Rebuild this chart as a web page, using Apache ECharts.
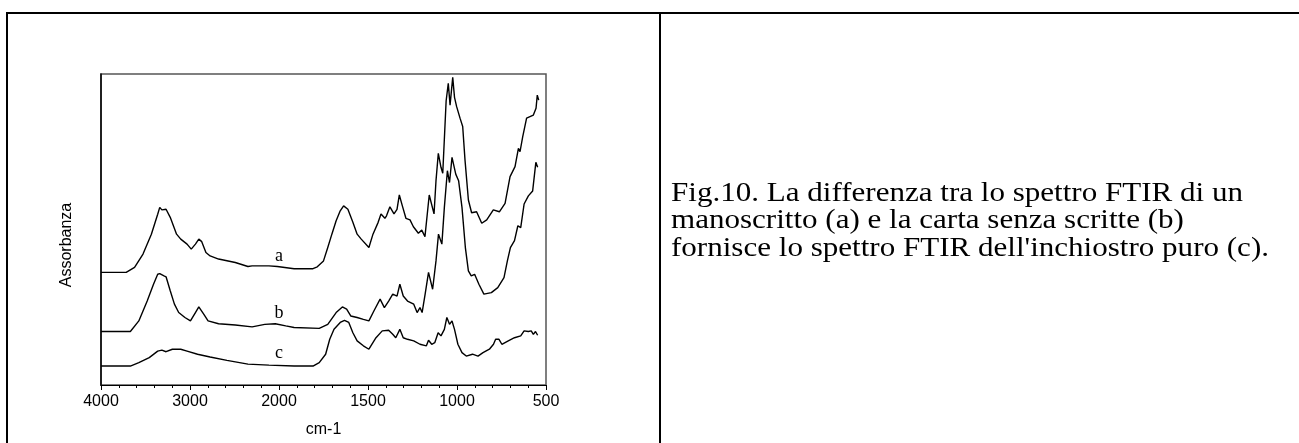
<!DOCTYPE html>
<html>
<head>
<meta charset="utf-8">
<script src="https://cdn.jsdelivr.net/npm/echarts@6/dist/echarts.min.js"></script>
<style>
html,body{margin:0;padding:0;background:#fff;}
#chart{width:1299px;height:443px;}
</style>
</head>
<body>
<div id="chart"></div>
<script>
// Tick labels of the wavenumber axis (scale changes at 2000 cm-1)
var xTickLabels = ['4000', '3000', '2000', '1500', '1000', '500'];

// Spectrum a (manoscritto): wavenumbers and absorbance (arbitrary units)
var waveA = [4000,3717,3623,3528,3434,3363,3340,3316,3269,3222,3151,3104,3033,2986,2939,2901,2868,2821,2774,2679,2491,2349,2302,2113,2019,1915,1809,1785,1750,1726,1703,1679,1656,1637,1613,1585,1561,1538,1495,1472,1443,1427,1405,1396,1377,1354,1337,1324,1307,1287,1264,1245,1217,1198,1180,1156,1129,1118,1105,1090,1080,1061,1049,1039,1024,1014,1002,983,968,955,936,918,890,861,833,796,762,730,702,674,655,646,631,609,571,556,549,541];
var absA  = [36.2,36.2,37.8,42.1,48.5,54.9,57.1,56.3,56.5,53.9,48.5,46.9,45.3,43.7,45.3,46.9,46.1,42.6,41.5,40.5,39.4,38.1,38.3,38.3,38.1,37.4,37.4,38.0,39.9,44.2,48.5,52.8,56.0,57.6,56.5,52.3,48.5,46.9,44.2,48.5,52.3,55.0,53.6,54.4,57.3,55.0,56.5,61.1,57.6,53.6,53.1,50.9,48.8,49.8,47.7,61.1,55.0,65.7,74.5,70.0,68.1,91.4,97.0,90.0,98.9,92.5,89.5,85.8,83.1,72.3,59.5,55.4,55.7,52.0,53.1,56.3,55.7,58.4,67.0,70.2,76.1,75.0,79.8,85.8,86.8,89.0,93.2,91.6];

// Spectrum b (carta senza scritte)
var waveB = [4000,3670,3575,3481,3410,3363,3340,3292,3269,3222,3175,3127,3057,2995,2939,2901,2844,2797,2679,2491,2302,2160,2042,1962,1915,1774,1726,1679,1644,1620,1597,1561,1526,1495,1467,1432,1408,1384,1361,1337,1321,1302,1278,1243,1224,1208,1196,1179,1160,1137,1118,1104,1085,1071,1054,1042,1028,1007,991,972,953,936,920,901,877,849,807,771,736,717,700,677,658,642,623,599,575,557,547];
var absB  = [17.2,17.2,20.6,27.0,32.4,35.6,35.8,35.1,34.8,30.3,26.0,23.3,21.7,20.6,23.3,25.1,22.7,20.6,19.7,19.3,18.7,19.5,19.7,19.0,18.5,18.2,19.5,23.3,25.1,24.4,22.2,21.7,21.1,20.6,23.8,27.6,24.9,27.0,29.2,28.6,32.4,28.6,27.0,26.0,23.3,24.9,23.3,29.2,36.2,30.8,39.9,48.5,45.3,57.1,68.9,65.1,73.2,67.8,65.7,57.1,44.2,36.7,35.1,35.6,32.4,29.2,29.7,31.3,34.5,39.9,44.2,46.4,51.2,50.6,58.2,60.8,62.4,71.6,70.0];

// Spectrum c (inchiostro puro = a - b)
var waveC = [4000,3670,3575,3458,3363,3316,3269,3198,3104,3033,2915,2774,2585,2349,2113,1915,1809,1774,1738,1715,1691,1656,1632,1608,1585,1561,1526,1495,1455,1420,1384,1361,1344,1321,1302,1278,1243,1208,1172,1160,1142,1125,1106,1090,1071,1057,1042,1028,1014,995,972,948,913,882,854,818,795,783,764,748,712,677,642,623,599,583,571,559,547];
var absC  = [6.1,6.1,7.2,8.8,10.9,11.2,10.7,11.5,11.5,10.9,9.9,9.0,7.9,6.7,6.4,6.1,6.1,7.2,9.9,14.7,17.9,20.1,20.8,20.1,16.8,14.2,12.6,11.5,15.2,17.4,17.6,16.3,15.2,17.9,15.2,14.7,14.2,13.1,12.6,14.4,13.1,13.6,16.8,15.8,17.9,21.7,19.5,20.6,17.9,13.1,10.4,9.3,9.9,9.3,10.4,11.5,13.1,14.7,14.7,13.1,14.2,15.2,15.8,17.4,17.2,17.4,16.3,17.2,16.0];

// Curve labels: name, wavenumber, absorbance
var curveLabels = [['a', 2000, 41.5], ['b', 2000, 23.2], ['c', 2000, 10.3]];

var captionLines = [
  'Fig.10. La differenza tra lo spettro FTIR di un',
  'manoscritto (a) e la carta senza scritte (b)',
  "fornisce lo spettro FTIR dell'inchiostro puro (c)."
];

// Piecewise wavenumber scale: 1000 cm-1 per unit above 2000, 500 cm-1 per unit below
function toPos(wn) {
  return wn >= 2000 ? (4000 - wn) / 1000 : 2 + (2000 - wn) / 500;
}
function pairs(w, v) {
  return w.map(function (x, i) { return [toPos(x), v[i]]; });
}
function mkSeries(name, w, v, i) {
  var l = curveLabels[i];
  return {
    name: name, type: 'line', data: pairs(w, v), showSymbol: false, symbol: 'none',
    smooth: false, silent: true, animation: false,
    lineStyle: {color: '#000', width: 1.4},
    markPoint: {
      symbol: 'circle', symbolSize: 0, silent: true, animation: false,
      label: {show: true, position: 'inside', color: '#000', fontFamily: 'Liberation Serif', fontSize: 18, formatter: l[0]},
      data: [{coord: [toPos(l[1]), l[2]]}]
    }
  };
}

var chart = echarts.init(document.getElementById('chart'), null, {renderer: 'canvas'});
chart.setOption({
  animation: false,
  backgroundColor: '#fff',
  grid: {left: 101, right: 753, top: 74, bottom: 58, show: true, borderColor: '#555', borderWidth: 1.5, backgroundColor: 'transparent'},
  xAxis: {
    type: 'value', min: 0, max: 5, interval: 1,
    name: 'cm-1', nameLocation: 'middle', nameGap: 37,
    nameTextStyle: {color: '#000', fontFamily: 'Liberation Sans', fontSize: 16},
    axisLine: {show: true, lineStyle: {color: '#000', width: 1.2}},
    axisTick: {show: true, inside: false, length: 5, lineStyle: {color: '#000'}},
    minorTick: {show: true, splitNumber: 5, length: 3, lineStyle: {color: '#000'}},
    splitLine: {show: false},
    axisLabel: {color: '#000', fontFamily: 'Liberation Sans', fontSize: 16, margin: 9,
      formatter: function (v) { return xTickLabels[Math.round(v)]; }}
  },
  yAxis: {
    type: 'value', min: 0, max: 100,
    axisLine: {show: true, lineStyle: {color: '#000', width: 1.5}},
    axisTick: {show: false}, axisLabel: {show: false}, splitLine: {show: false}
  },
  series: [
    mkSeries('a', waveA, absA, 0),
    mkSeries('b', waveB, absB, 1),
    mkSeries('c', waveC, absC, 2)
  ],
  graphic: [
    {type: 'line', shape: {x1: 6, y1: 13, x2: 1299, y2: 13}, style: {stroke: '#000', lineWidth: 2}},
    {type: 'line', shape: {x1: 7, y1: 12, x2: 7, y2: 443}, style: {stroke: '#000', lineWidth: 2}},
    {type: 'line', shape: {x1: 660, y1: 12, x2: 660, y2: 443}, style: {stroke: '#000', lineWidth: 2}},
    {type: 'text', x: 67, y: 245, rotation: Math.PI / 2,
      style: {text: 'Assorbanza', fill: '#000', font: '16px "Liberation Sans"', textAlign: 'center', textVerticalAlign: 'middle'}},
    {type: 'text', x: 671, y: 221, scaleX: 1.15,
      style: {text: captionLines.join('\n'), fill: '#000', font: '27px "Liberation Serif"', lineHeight: 27.5, textAlign: 'left', textVerticalAlign: 'middle'}}
  ]
});
</script>
</body>
</html>
